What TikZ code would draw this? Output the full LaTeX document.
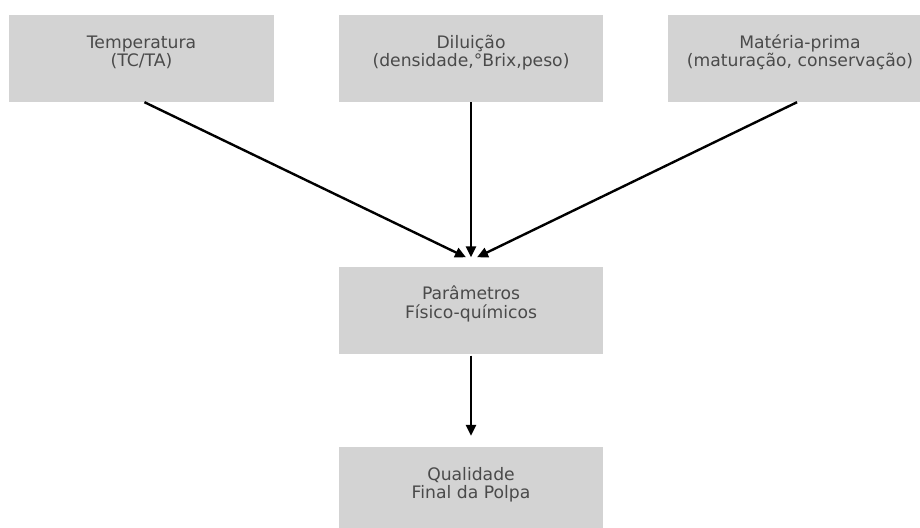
\documentclass[tikz,border=0pt]{standalone}
\usepackage{fontspec}
\setmainfont{DejaVu Sans}
\usetikzlibrary{arrows.meta}
\definecolor{boxgray}{HTML}{D3D3D3}
\definecolor{txtgray}{HTML}{4A4A4A}
\begin{document}
\begin{tikzpicture}[x=1pt,y=-1pt,
  box/.style={fill=boxgray,draw=none,minimum width=264pt,minimum height=87pt,inner sep=0pt},
  lbl/.style={align=center,text=txtgray,font=\fontsize{17.2}{18.5}\selectfont,inner sep=0pt},
  arr/.style={line width=2.4pt,-{Triangle[length=11pt,width=10pt]}}]
\useasboundingbox[fill=white] (0,0) rectangle (920,527);
\node[box,minimum width=265pt] (t1) at (141.5,58.5) {};
\node[box] (t2) at (471,58.5) {};
\node[box] (t3) at (800,58.5) {};
\node[box] (mid) at (471,310) {};
\node[box] (bot) at (471,490.5) {};
\coordinate (m) at ([yshift=9pt]mid.north);
\coordinate (b) at ([yshift=11pt]bot.north);
\node[lbl] (l1) at (141.5,52.5) {Temperatura\\(TC/TA)};
\node[lbl] (l2) at (471,52.5) {Diluição\\(densidade,°Brix,peso)};
\node[lbl] (l3) at (800,52.5) {Matéria-prima\\(maturação, conservação)};
\node[lbl] (lm) at (471,304) {Parâmetros\\Físico-químicos};
\node[lbl] (lb) at (471,484.5) {Qualidade\\Final da Polpa};
\draw[arr] ([xshift=3pt]t1.south) -- ([xshift=-5pt]m);
\draw[arr] (t2.south) -- (m);
\draw[arr] ([xshift=-3pt]t3.south) -- ([xshift=6pt]m);
\draw[arr] ([yshift=-2pt]mid.south) -- (b);
\end{tikzpicture}
\end{document}
